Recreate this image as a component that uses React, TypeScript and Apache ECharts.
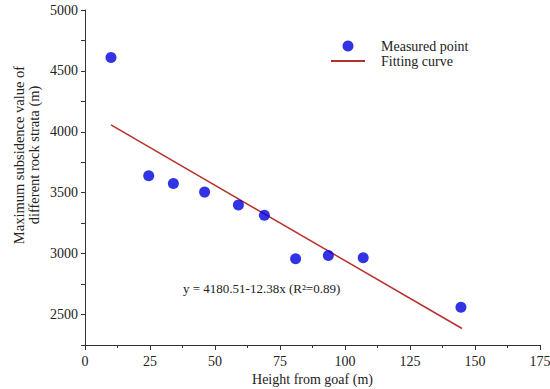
import React, { useEffect, useRef } from "react";
import * as echarts from "echarts";

const heights = [10, 24.5, 34, 46, 59, 69, 81, 93.6, 107, 144.6];
const subsidence = [4610, 3640, 3575, 3505, 3400, 3315, 2958, 2985, 2966, 2560];
const fitX = [10, 145];
const fitY = [4056.7, 2385.4];
const equationText = "y = 4180.51-12.38x (R\u00B2=0.89)";
const yAxisTitle = "Maximum subsidence value of\ndifferent rock strata (m)";

const FONT = "'Liberation Serif', 'Times New Roman', serif";

export default function App() {
  const ref = useRef<HTMLDivElement>(null);
  useEffect(() => {
    if (!ref.current) return;
    const chart = echarts.init(ref.current, undefined, { renderer: "svg" });
    chart.setOption({
      animation: false,
      textStyle: { fontFamily: FONT },
      grid: { left: 85, top: 10, right: 10, bottom: 44, outerBoundsMode: "none", containLabel: false },
      legend: {
        orient: "vertical",
        left: 325,
        top: 34,
        itemWidth: 34,
        itemHeight: 11,
        itemGap: 1,
        textStyle: { fontFamily: FONT, fontSize: 14, color: "#222", padding: [0, 0, 0, 11] },
        data: [
          { name: "Measured point", icon: "circle" },
          { name: "Fitting curve", itemStyle: { opacity: 0 } },
        ],
      },
      xAxis: {
        type: "value",
        min: 0,
        max: 175,
        interval: 25,
        name: "Height from goaf (m)",
        nameLocation: "middle",
        nameGap: 27,
        nameTextStyle: { fontFamily: FONT, fontSize: 14, color: "#222" },
        axisLine: { show: true, lineStyle: { color: "#333", width: 1 } },
        axisTick: { show: true, length: 5, lineStyle: { color: "#333" } },
        minorTick: { show: true, splitNumber: 2, length: 3, lineStyle: { color: "#333" } },
        axisLabel: { fontFamily: FONT, fontSize: 14, color: "#222", margin: 9 },
        splitLine: { show: false },
      },
      yAxis: {
        type: "value",
        min: 2250,
        max: 5000,
        interval: 250,
        axisLine: { show: true, lineStyle: { color: "#333", width: 1 } },
        axisTick: { show: true, length: 4, lineStyle: { color: "#333" } },
        axisLabel: {
          fontFamily: FONT,
          fontSize: 14,
          color: "#222",
          margin: 7,
          formatter: (v: number) => (v % 500 === 0 ? String(v) : ""),
        },
        splitLine: { show: false },
      },
      series: [
        {
          name: "Measured point",
          type: "scatter",
          symbol: "circle",
          symbolSize: 11,
          itemStyle: { color: "#0000e0" },
          data: heights.map((h, i) => [h, subsidence[i]]),
          z: 3,
        },
        {
          name: "Fitting curve",
          type: "line",
          symbol: "none",
          lineStyle: { color: "#b8302c", width: 1.5 },
          itemStyle: { color: "#b8302c" },
          data: fitX.map((x, i) => [x, fitY[i]]),
          z: 2,
        },
      ],
      graphic: [
        {
          type: "text",
          left: 183,
          top: 282,
          style: { text: equationText, font: `13px ${FONT}`, fill: "#222" },
        },
        {
          type: "text",
          x: 26,
          y: 155,
          rotation: Math.PI / 2,
          style: {
            text: yAxisTitle,
            font: `14.5px ${FONT}`,
            fill: "#222",
            align: "center",
            verticalAlign: "middle",
            lineHeight: 15,
          },
        },
      ],
    });
    return () => chart.dispose();
  }, []);
  return <div ref={ref} style={{ width: 550, height: 389, position: "absolute", left: 0, top: 0 }} />;
}
